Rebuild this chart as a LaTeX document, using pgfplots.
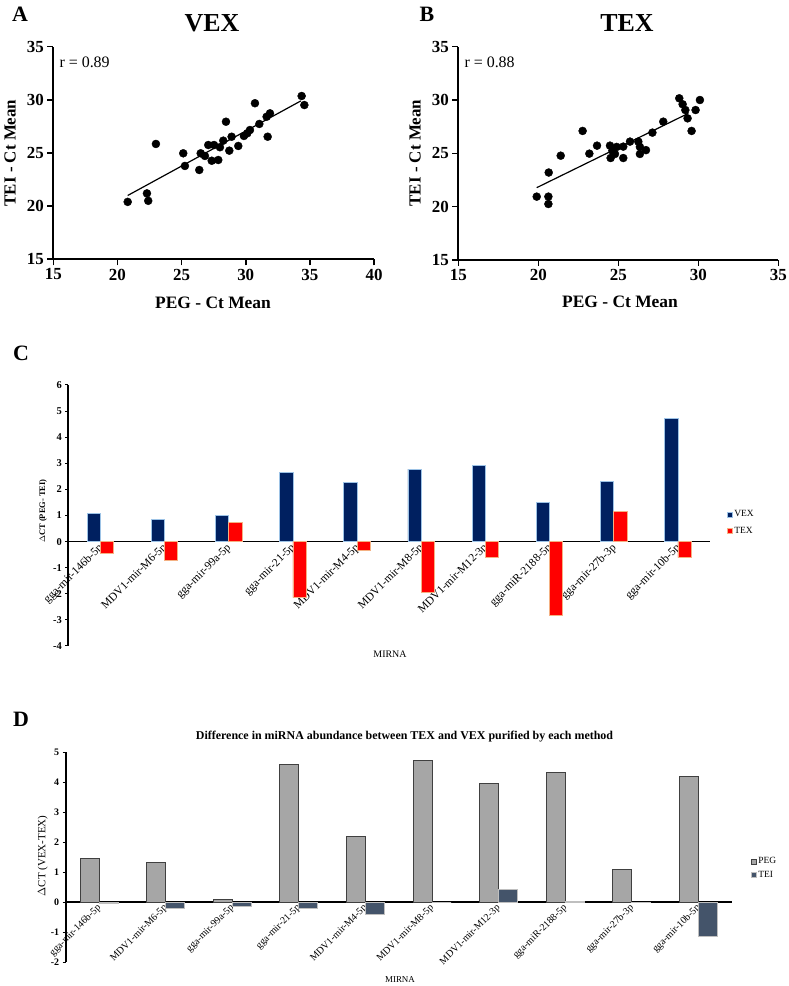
\documentclass[border=0pt]{standalone}
\usepackage{pgfplots}
\pgfplotsset{compat=1.18}
\usepackage{fontspec}
\setmainfont{Liberation Serif}
\definecolor{vexblue}{HTML}{002060}
\definecolor{vexedge}{HTML}{9DC3E6}
\definecolor{texred}{HTML}{FF0000}
\definecolor{texedge}{HTML}{F4B183}
\definecolor{peggray}{HTML}{A6A6A6}
\definecolor{pegedge}{HTML}{404040}
\definecolor{teiblue}{HTML}{44546A}
\definecolor{teiedge}{HTML}{BFBFBF}
\pgfplotsset{
  scat/.style={
    anchor=south west, scale only axis, clip=false,
    axis lines*=left, axis line style={line width=2bp, black},
    tick align=outside, major tick length=6bp, tick style={line width=1.6bp, black},
    tick label style={font=\bfseries\fontsize{17}{17}\selectfont},
    /pgf/number format/assume math mode=true,
    ymin=15, ymax=35, ytick={15,20,...,35},
  },
  barax/.style={
    anchor=south west, scale only axis, clip=false,
    xmin=-0.5, xmax=9.5, ybar=0pt,
    axis x line*=middle, axis y line*=left,
    axis line style={line width=1.8bp, black},
    xtick=data, xtick style={draw=none},
    ytick style={line width=1bp, black}, tick align=outside, major tick length=3bp,
    /pgf/number format/assume math mode=true,
    xticklabels={gga-mir-146b-5p,MDV1-mir-M6-5p,gga-mir-99a-5p,gga-mir-21-5p,MDV1-mir-M4-5p,MDV1-mir-M8-5p,MDV1-mir-M12-3p,gga-miR-2188-5p,gga-mir-27b-3p,gga-mir-10b-5p},
    legend cell align=left,
  },
  sq/.style={legend image code/.code={\draw[##1, line width=0.6bp] (0bp,-2.5bp) rectangle (5bp,2.5bp);}},
}
\begin{document}
\begin{tikzpicture}[x=1bp,y=1bp]
\path[use as bounding box] (0,0) rectangle (789,986);

% ---------- A ----------
\node[font=\bfseries\fontsize{22}{22}\selectfont] at (20,972) {A};
\node[font=\bfseries\fontsize{26}{26}\selectfont] at (212,963) {VEX};
\begin{axis}[scat, at={(53.3bp,726.7bp)}, width=320.7bp, height=212.6bp,
  xmin=15, xmax=40, xtick={15,20,...,40}]
\addplot[only marks, mark=*, mark size=4bp, black] coordinates {
(20.8,20.4) (22.3,21.2) (22.4,20.5) (23.0,25.85)
(25.13,24.97) (25.26,23.78) (26.38,23.4) (26.49,24.97) (26.82,24.72)
(27.08,25.75) (27.53,25.75) (27.35,24.27) (27.86,24.34) (27.99,25.54)
(28.25,26.16) (28.46,27.94) (28.72,25.22) (28.9,26.53) (29.42,25.66)
(29.86,26.6) (30.12,26.85) (30.33,27.16) (30.72,29.68) (31.06,27.73)
(31.63,28.41) (31.71,26.53) (31.89,28.73) (34.36,30.36) (34.57,29.51)
};
\addplot[black, line width=1.2bp] coordinates {(20.8,21.0) (34.3,29.9)};
\end{axis}
\node[anchor=west, font=\fontsize{16}{16}\selectfont] at (56,924) {r = 0.89};
\node[rotate=90, font=\bfseries\fontsize{17}{17}\selectfont] at (10,833) {TEI - Ct Mean};
\node[font=\bfseries\fontsize{17.5}{17.5}\selectfont] at (213,683) {PEG - Ct Mean};

% ---------- B ----------
\node[font=\bfseries\fontsize{22}{22}\selectfont] at (427,972) {B};
\node[font=\bfseries\fontsize{26}{26}\selectfont] at (627,963) {TEX};
\begin{axis}[scat, at={(458.3bp,726bp)}, width=320bp, height=213.3bp,
  xmin=15, xmax=35, xtick={15,20,...,35}]
\addplot[only marks, mark=*, mark size=4bp, black] coordinates {
(19.9,20.94) (20.63,20.94) (20.63,20.25) (20.65,23.2) (21.4,24.78)
(22.77,27.1) (23.19,24.97) (23.67,25.72) (24.48,25.72) (24.63,25.25)
(24.52,24.56) (24.9,25.6) (24.79,24.94) (25.31,25.63) (25.31,24.56)
(25.73,26.1) (26.25,26.1) (26.35,25.6) (26.35,24.94) (26.73,25.3)
(27.13,26.94) (27.81,27.97) (28.81,30.16) (29.02,29.6) (29.19,29.06)
(29.33,28.28) (29.58,27.1) (29.83,29.06) (30.1,30.0)
};
\addplot[black, line width=1.2bp] coordinates {(19.9,21.78) (29.38,28.75)};
\end{axis}
\node[anchor=west, font=\fontsize{16}{16}\selectfont] at (461,924) {r = 0.88};
\node[rotate=90, font=\bfseries\fontsize{17}{17}\selectfont] at (415,833) {TEI - Ct Mean};
\node[font=\bfseries\fontsize{17.5}{17.5}\selectfont] at (620,684) {PEG - Ct Mean};

% ---------- C ----------
\node[font=\bfseries\fontsize{22}{22}\selectfont] at (21,633) {C};
\begin{axis}[barax, at={(68.3bp,340bp)}, width=641.7bp, height=261bp,
  ymin=-4, ymax=6, ytick={-4,...,6}, bar width=13.3bp,
  y tick label style={font=\bfseries\fontsize{10.5}{10.5}\selectfont},
  x tick label style={font=\fontsize{11.5}{11.5}\selectfont, rotate=45, anchor=north east, inner sep=0.5pt, xshift=0bp, yshift=4bp},
  legend style={at={(1.0265,0.4717)}, anchor=west, draw=none, fill=none,
    font=\fontsize{9.5}{9.5}\selectfont, row sep=6bp, inner sep=0pt,
    nodes={inner sep=1.5bp}},
]
\addplot[sq, fill=vexblue, draw=vexedge, line width=0.8bp] coordinates {
(0,1.09) (1,0.86) (2,1.0) (3,2.66) (4,2.26) (5,2.78) (6,2.91) (7,1.49) (8,2.30) (9,4.71)};
\addplot[sq, fill=texred, draw=texedge, line width=0.8bp] coordinates {
(0,-0.46) (1,-0.72) (2,0.74) (3,-2.15) (4,-0.33) (5,-1.93) (6,-0.61) (7,-2.81) (8,1.16) (9,-0.61)};
\legend{VEX,TEX}
\end{axis}
\node[rotate=90, font=\bfseries\fontsize{8.5}{8.5}\selectfont] at (43,475) {$\Delta$CT (PEG- TEI)};
\node[font=\fontsize{10}{10}\selectfont] at (390,332) {MIRNA};

% ---------- D ----------
\node[font=\bfseries\fontsize{22}{22}\selectfont] at (21,267) {D};
\node[font=\bfseries\fontsize{12}{12}\selectfont] at (404.5,249) {Difference in miRNA abundance between TEX and VEX purified by each method};
\begin{axis}[barax, at={(65.7bp,23.7bp)}, width=666bp, height=210bp,
  ymin=-2, ymax=5, ytick={-2,...,5}, bar width=19bp,
  y tick label style={font=\bfseries\fontsize{10}{10}\selectfont},
  x tick label style={font=\fontsize{10}{10}\selectfont, rotate=45, anchor=north east, inner sep=0.5pt, xshift=0bp, yshift=4bp},
  legend style={at={(1.029,0.448)}, anchor=west, draw=none, fill=none,
    font=\fontsize{9.5}{9.5}\selectfont, row sep=3bp, inner sep=0pt,
    nodes={inner sep=1.5bp}},
]
\addplot[sq, fill=peggray, draw=pegedge, line width=1bp] coordinates {
(0,1.47) (1,1.33) (2,0.11) (3,4.61) (4,2.18) (5,4.72) (6,3.97) (7,4.33) (8,1.09) (9,4.21)};
\addplot[sq, fill=teiblue, draw=teiedge, line width=1bp] coordinates {
(0,-0.05) (1,-0.22) (2,-0.14) (3,-0.22) (4,-0.4) (5,0) (6,0.42) (7,0.02) (8,-0.02) (9,-1.14)};
\legend{PEG,TEI}
\end{axis}
\node[rotate=90, font=\fontsize{11}{11}\selectfont] at (42.7,130) {$\Delta$CT (VEX-TEX)};
\node[font=\fontsize{9}{9}\selectfont] at (400,6) {MIRNA};
\end{tikzpicture}
\end{document}
